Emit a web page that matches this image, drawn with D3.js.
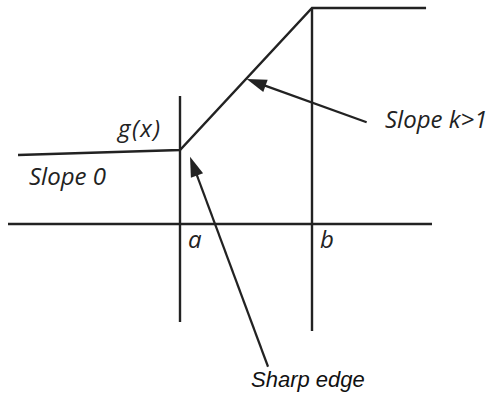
<!DOCTYPE html>
<html><head><meta charset="utf-8">
<script src="https://cdn.jsdelivr.net/npm/d3@7"></script>
<style>body{margin:0;background:#fff}svg{display:block}</style>
</head><body>
<svg id="c" width="495" height="396"></svg>
<script>
// data units: a = 1, b = 2, g(a) = 1
const curveX = [-0.227, 1, 2, 2.864];
const curveY = [0.932, 1, 2.919, 2.919];
const axisX = [-0.303, 2.909];
const knotNames = ["a", "b"];
const knotX = [1, 2];
const knotTop = [1.73, 2.919];
const knotBottom = [-1.324, -1.446];
const labels = ["g(x)", "Slope 0", "Slope k>1"];
const labelX = [0.530, -0.144, 2.553];
const labelY = [1.176, 0.527, 1.297];
const arrowFrom = [[2.414, 1.374], [1.667, -1.929]];
const arrowTo = [[1.505, 1.959], [1.076, 0.909]];
const noteText = "Sharp edge";

const svg = d3.select("#c");
const x = d3.scaleLinear().domain([0, 1]).range([48, 180]);
const y = d3.scaleLinear().domain([0, 1]).range([224, 150]);
const ink = "#222";

// x axis line
svg.append("line").attr("x1", x(axisX[0])).attr("x2", x(axisX[1]))
  .attr("y1", y(0)).attr("y2", y(0)).attr("stroke", ink).attr("stroke-width", 2.4);

// knot verticals
knotX.forEach((k, i) => {
  svg.append("line").attr("x1", x(k)).attr("x2", x(k))
    .attr("y1", y(knotTop[i])).attr("y2", y(knotBottom[i]))
    .attr("stroke", ink).attr("stroke-width", 2.4);
  svg.append("text").attr("x", x(k) + 8).attr("y", y(0) + 24)
    .attr("font-family", "Open Sans").attr("font-style", "italic")
    .attr("font-size", 24).attr("fill", ink).text(knotNames[i]);
});

// curve
const line = d3.line().x((d, i) => x(curveX[i])).y((d, i) => y(curveY[i]));
svg.append("path").attr("d", line(curveX)).attr("fill", "none")
  .attr("stroke", ink).attr("stroke-width", 2.4).attr("stroke-linejoin", "miter");

// labels
labels.forEach((t, i) => {
  svg.append("text").attr("x", x(labelX[i])).attr("y", y(labelY[i]))
    .attr("font-family", "Open Sans").attr("font-style", "italic")
    .attr("font-size", 24).attr("letter-spacing", i === 0 ? 1.5 : 0)
    .attr("fill", ink).text(t);
});

// arrows
function arrow(f, t) {
  const x1 = x(f[0]), y1 = y(f[1]), x2 = x(t[0]), y2 = y(t[1]);
  const ang = Math.atan2(y2 - y1, x2 - x1);
  const L = 20, W = 6.5;
  const bx = x2 - L * Math.cos(ang), by = y2 - L * Math.sin(ang);
  svg.append("line").attr("x1", x1).attr("y1", y1).attr("x2", bx + 2 * Math.cos(ang)).attr("y2", by + 2 * Math.sin(ang))
    .attr("stroke", ink).attr("stroke-width", 2.2);
  const px = -Math.sin(ang), py = Math.cos(ang);
  svg.append("path").attr("d", `M${x2},${y2}L${bx + W * px},${by + W * py}L${bx - W * px},${by - W * py}Z`)
    .attr("fill", ink);
}
arrowFrom.forEach((f, i) => arrow(f, arrowTo[i]));

svg.append("text").attr("x", 251).attr("y", 387)
  .attr("font-family", "Liberation Sans").attr("font-style", "italic")
  .attr("font-size", 22).attr("fill", "#111").text(noteText);
</script>
</body></html>
